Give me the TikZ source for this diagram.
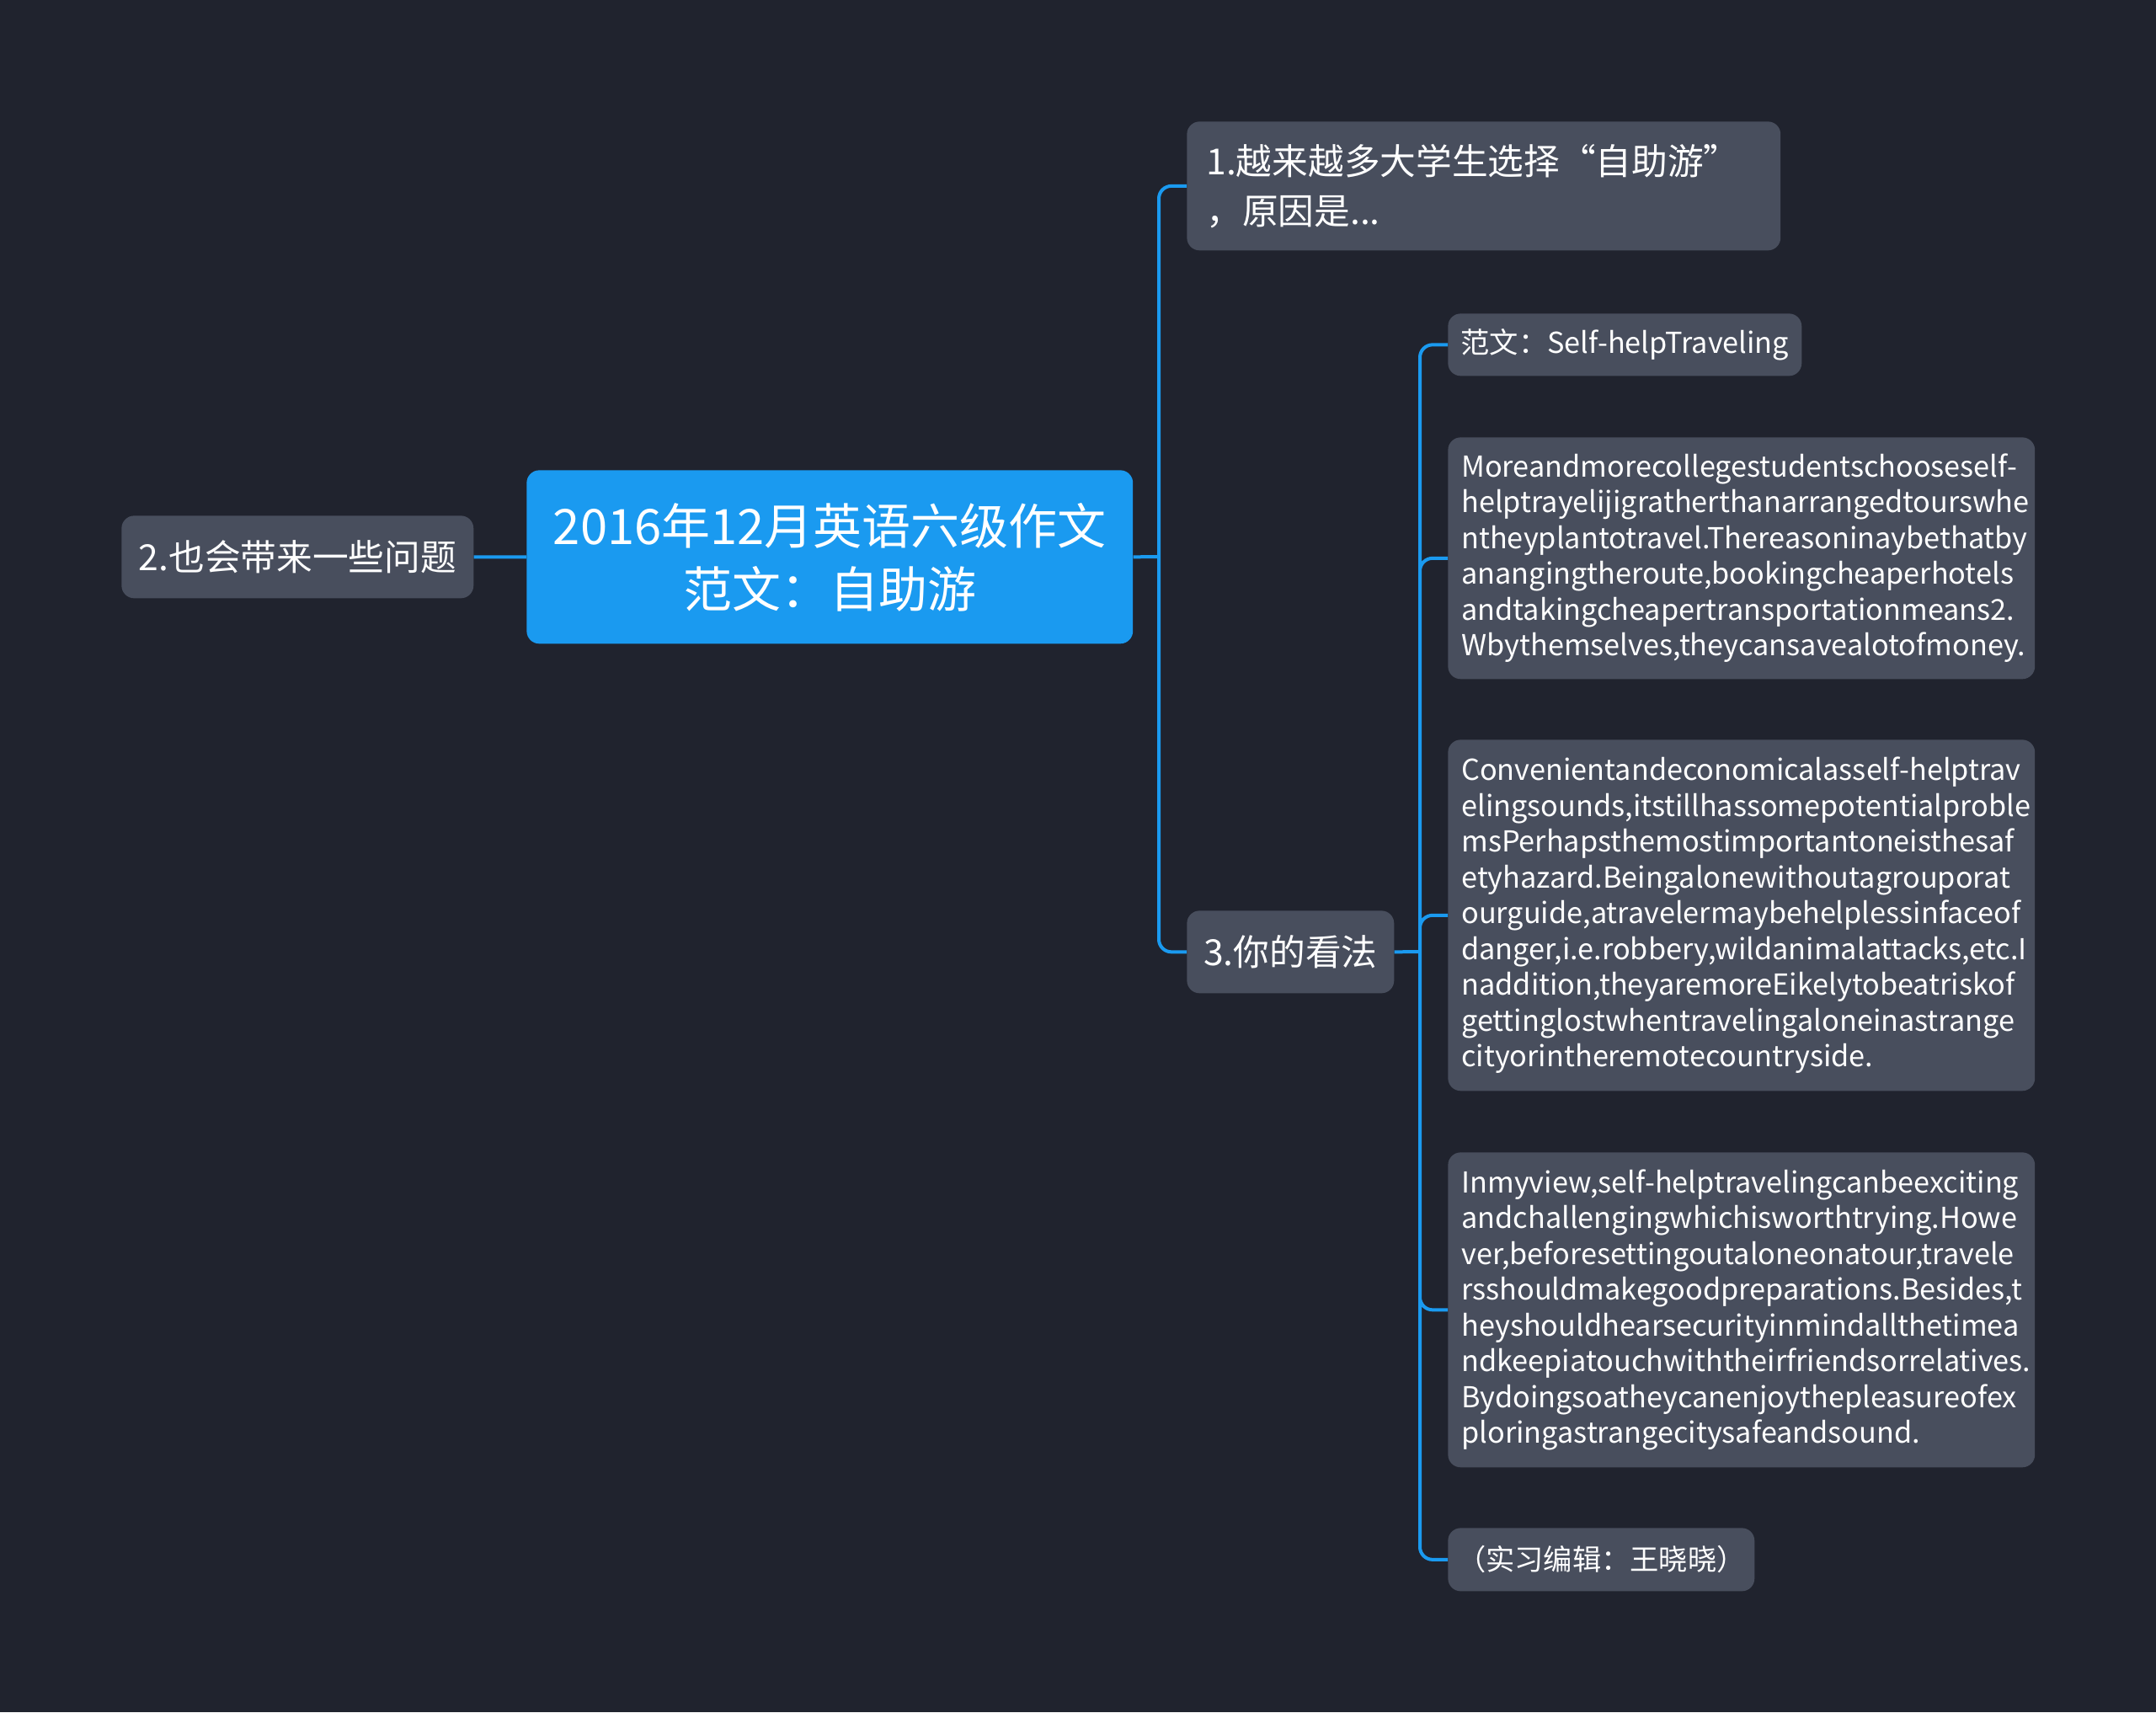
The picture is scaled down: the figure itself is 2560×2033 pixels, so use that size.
\documentclass[tikz,border=0pt]{standalone}
\usepackage{fontspec}
\setmainfont{Noto Sans CJK SC}
\usetikzlibrary{positioning}
\definecolor{bgdark}{HTML}{20232E}
\definecolor{boxgray}{HTML}{484E5D}
\definecolor{topicblue}{HTML}{1A9AF0}
\hyphenpenalty=10000
\exhyphenpenalty=10000

\begin{document}
\begin{tikzpicture}[x=0.02cm,y=-0.02cm,
  box/.style={rectangle,rounded corners=0.3cm,fill=boxgray,text=white,inner sep=0pt,anchor=north west,align=center},
  big/.style={font=\fontsize{24.3}{33.6}\selectfont},
  small/.style={font=\fontsize{19.5}{24.2}\selectfont},
  para/.style={box,small,align=left,minimum width=13.94cm,text width=13.3cm,inner xsep=0.32cm},
  link/.style={draw=topicblue,line width=0.08cm,rounded corners=0.3cm}]

\fill[bgdark] (0,0) rectangle (2560,2033);

\node[box,fill=topicblue,minimum width=14.4cm,minimum height=4.12cm,font=\fontsize{33}{42.7}\selectfont] (root) at (625,558) {2016年12月英语六级作文\\范文：自助游};
\node[box,big,minimum width=8.36cm,minimum height=1.96cm] (t2) at (144,612) {2.也会带来一些问题};
\node[box,big,align=left,minimum width=14.1cm,minimum height=3.06cm,text width=13.18cm,inner xsep=0.46cm] (t1) at (1409,144) {1.越来越多大学生选择“自助游”\\，原因是...};
\node[box,big,minimum width=4.92cm,minimum height=1.96cm] (t3) at (1409,1081) {3.你的看法};

\node[box,small,minimum width=8.4cm,minimum height=1.48cm] (s1) at (1719,372) {范文：Self-helpTraveling};
\node[para,minimum height=5.74cm] (s2) at (1719,519) {Moreandmorecollegestudentschooseself-\\helptrayelijigratherthanarrangedtourswhe\\ntheyplantotravel.Thereasoninaybethatby\\anangingtheroute,bookingcheaperhotels\\andtakingcheapertransportationmeans2.\\Wbythemselves,theycansavealotofmoney.};
\node[para,minimum height=8.34cm] (s3) at (1719,878) {Convenientandeconomicalasself-helptrav\\elingsounds,itstillhassomepotentialproble\\msPerhapsthemostimportantoneisthesaf\\etyhazard.Beingalonewithoutagrouporat\\ourguide,atravelermaybehelplessinfaceof\\danger,i.e.robbery,wildanimalattacks,etc.I\\naddition,theyaremoreEikelytobeatriskof\\gettinglostwhentravelingaloneinastrange\\cityorintheremotecountryside.};
\node[para,minimum height=7.48cm] (s4) at (1719,1368) {Inmyview,self-helptravelingcanbeexciting\\andchallengingwhichisworthtrying.Howe\\ver,beforesettingoutaloneonatour,travele\\rsshouldmakegoodpreparations.Besides,t\\heyshouldhearsecurityinmindallthetimea\\ndkeepiatouchwiththeirfriendsorrelatives.\\Bydoingsoatheycanenjoythepleasureofex\\ploringastrangecitysafeandsound.};
\node[box,small,minimum width=7.28cm,minimum height=1.5cm] (s5) at (1719,1814) {（实习编辑：王晓晓）};

\coordinate (j1) at (1376,661);
\coordinate (j3) at (1686,1130);
\draw[link] (root.east) -- (j1) (root.west) -- (t2.east) (t3.east) -- (j3);
\draw[link] (j1) |- (t1.west) (j1) |- (t3.west);
\draw[link] (j3) |- (s1.west) (j3) |- (s2.west) (j3) |- (s3.west) (j3) |- (s4.west) (j3) |- (s5.west);
\end{tikzpicture}
\end{document}
